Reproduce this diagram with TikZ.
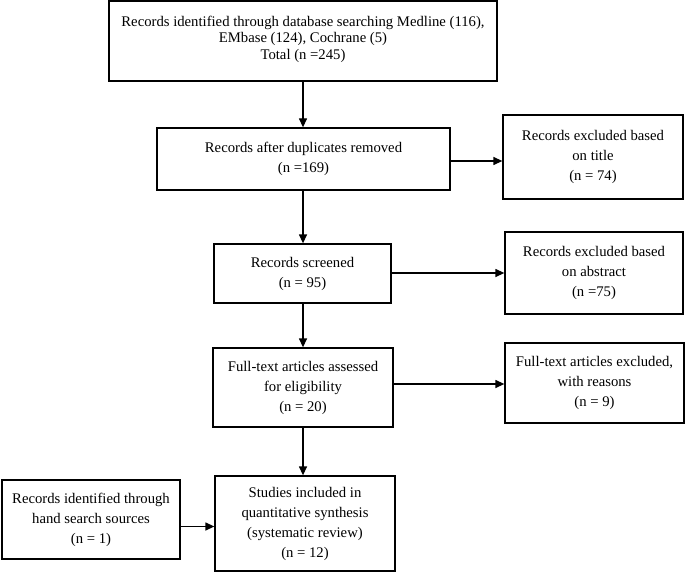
\documentclass[tikz,border=0pt]{standalone}
\usepackage{fontspec}
\setmainfont{Liberation Serif}
\usetikzlibrary{arrows.meta}
\begin{document}
\begin{tikzpicture}[x=1pt,y=-1pt,
  box/.style={draw=black, line width=1.3pt, align=center, inner sep=2pt,
    font=\fontsize{14.7}{20}\selectfont},
  arr/.style={line width=1.3pt, -{Triangle[length=9pt,width=8pt]}}]
\useasboundingbox (0,0) rectangle (685,572);
\node[box, minimum width=388, minimum height=80,
  font=\fontsize{14.7}{16.5}\selectfont] (b1) at (303,41)
  {Records identified through database searching Medline (116),\\EMbase (124), Cochrane (5)\\Total (n =245)\\[-10pt]};
\node[box, minimum width=293, minimum height=62] (b2) at (303.5,159)
  {Records after duplicates removed\\(n =169)};
\node[box, minimum width=180, minimum height=84] (r1) at (593,157)
  {Records excluded based\\on title\\(n = 74)};
\node[box, minimum width=177, minimum height=59] (b3) at (302.5,273.5)
  {Records screened\\(n = 95)};
\node[box, minimum width=178, minimum height=82] (r2) at (594,273)
  {Records excluded based\\on abstract\\(n =75)};
\node[box, minimum width=180, minimum height=79] (b4) at (303,387.5)
  {Full-text articles assessed\\for eligibility\\(n = 20)};
\node[box, minimum width=179, minimum height=80] (r3) at (594.5,383)
  {Full-text articles excluded,\\with reasons\\(n = 9)};
\node[box, minimum width=180, minimum height=95] (b5) at (305,523.5)
  {Studies included in\\quantitative synthesis\\(systematic review)\\(n = 12)};
\node[box, minimum width=178, minimum height=79] (l1) at (91,519.5)
  {Records identified through\\hand search sources\\(n = 1)};
\draw[arr] (b1.south) -- (b1.south |- b2.north);
\draw[arr] (b2.south -| b1.south) -- (b1.south |- b3.north);
\draw[arr] (b3.south -| b1.south) -- (b1.south |- b4.north);
\draw[arr] (b4.south -| b1.south) -- (b1.south |- b5.north);
\draw[arr] ([yshift=-2pt]b2.east) -- ([yshift=-2pt]b2.east -| r1.west);
\draw[arr] ([yshift=0.5pt]b3.east) -- ([yshift=0.5pt]b3.east -| r2.west);
\draw[arr] ([yshift=3.5pt]b4.east) -- ([yshift=3.5pt]b4.east -| r3.west);
\draw[arr] ([yshift=-7pt]l1.east) -- ([yshift=-7pt]l1.east -| b5.west);
\end{tikzpicture}
\end{document}
